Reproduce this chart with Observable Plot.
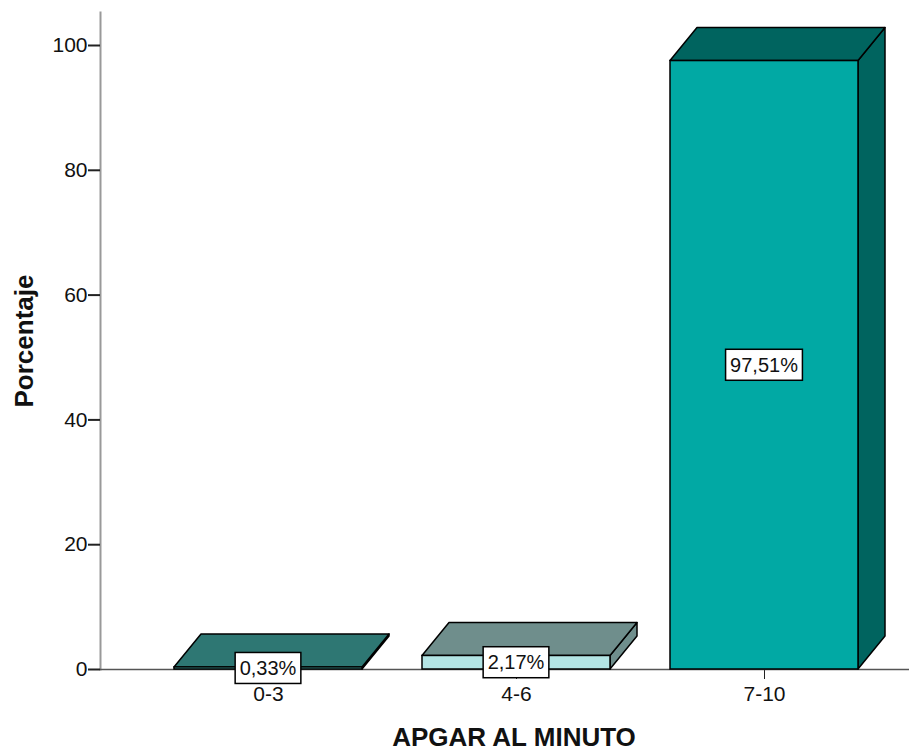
<!DOCTYPE html>
<html><head><meta charset="utf-8">
<script src="https://cdn.jsdelivr.net/npm/d3@7"></script>
<script src="https://cdn.jsdelivr.net/npm/@observablehq/plot@0.6"></script>
<style>html,body{margin:0;padding:0;background:#fff;} svg{display:block;}</style>
</head><body><div id="chart"></div>
<script>
const categories = ["0-3", "4-6", "7-10"];
const percentages = [0.33, 2.17, 97.51];
const valueLabels = ["0,33%", "2,17%", "97,51%"];
const yTicks = [0, 20, 40, 60, 80, 100];
const frontColors = ["#4cbdb6", "#b3e4e4", "#01a9a4"];
const topColors = ["#2e7773", "#6f8e8c", "#00645f"];
const xTitle = "APGAR AL MINUTO";
const yTitle = "Porcentaje";

const data = categories.map((c, i) => ({cat: c, value: percentages[i], label: valueLabels[i], front: frontColors[i], top: topColors[i]}));

const DX = 27, DY = 33;
const FONT = "'Liberation Sans', Arial, sans-serif";

function renderFaces(index, scales) {
  const {x, y} = scales;
  const bw = x.bandwidth();
  const g = d3.create("svg:g").attr("stroke", "#000").attr("stroke-width", 1.5).attr("stroke-linejoin", "round");
  for (const i of index) {
    const d = data[i];
    const x0 = x(d.cat), x1 = x0 + bw, yt = y(d.value), yb = y(0);
    g.append("path")
      .attr("d", `M${x1},${yt}L${x1 + DX},${yt - DY}L${x1 + DX},${yb - DY}L${x1},${yb}Z`)
      .attr("fill", d.top);
    g.append("path")
      .attr("d", `M${x0},${yt}L${x0 + DX},${yt - DY}L${x1 + DX},${yt - DY}L${x1},${yt}Z`)
      .attr("fill", d.top);
  }
  return g.node();
}

const measureCtx = document.createElement("canvas").getContext("2d");
function renderLabels(index, scales) {
  const {x, y} = scales;
  const bw = x.bandwidth();
  const fs = 20;
  measureCtx.font = `${fs}px 'Liberation Sans', Arial, sans-serif`;
  const g = d3.create("svg:g");
  for (const i of index) {
    const d = data[i];
    const cx = x(d.cat) + bw / 2, cy = y(d.value / 2);
    const w = measureCtx.measureText(d.label).width + 9, h = 31;
    g.append("rect").attr("x", cx - w / 2).attr("y", cy - h / 2).attr("width", w).attr("height", h)
      .attr("fill", "#fff").attr("stroke", "#000").attr("stroke-width", 1.5);
    g.append("text").attr("x", cx).attr("y", cy).attr("text-anchor", "middle").attr("dy", "0.35em")
      .attr("font-size", fs).attr("font-family", FONT).attr("fill", "#111").text(d.label);
  }
  return g.node();
}

const chart = Plot.plot({
  width: 909,
  height: 751,
  marginLeft: 100,
  marginRight: 0,
  marginTop: 12,
  marginBottom: 82,
  style: {fontFamily: FONT, background: "#fff", color: "#111", fontSize: "21px"},
  x: {domain: categories, range: [174, 858], paddingInner: 60 / 248, paddingOuter: 0, round: false, axis: null},
  y: {domain: [0, 100], range: [669, 45], axis: null},
  color: {type: "identity"},
  marks: [
    Plot.frame({anchor: "left", stroke: "#999", strokeWidth: 2}),
    Plot.axisY({ticks: yTicks, tickSize: 12, tickPadding: 1, fontSize: 21, label: null, strokeWidth: 2, stroke: "#222"}),
    Plot.axisX({tickSize: 10, tickPadding: 7, fontSize: 21, label: null, stroke: "#222"}),
    Plot.ruleY([0], {stroke: "#555", strokeWidth: 1.5}),
    Plot.barY(data, {x: "cat", y: "value", render: renderFaces}),
    Plot.barY(data, {x: "cat", y: "value", fill: "front", stroke: "#000", strokeWidth: 1.5}),
    Plot.text(data, {x: "cat", y: d => d.value / 2, text: "label", render: renderLabels}),
    Plot.text([yTitle], {frameAnchor: "left", rotate: -90, dx: -76, text: d => d, fontSize: 26, fontWeight: "bold", textAnchor: "middle", lineAnchor: "middle", fill: "#111"}),
    Plot.text([xTitle], {frameAnchor: "bottom", dx: 9, dy: 68, text: d => d, fontSize: 26, fontWeight: "bold", textAnchor: "middle", lineAnchor: "middle", fill: "#111"})
  ]
});
document.getElementById("chart").append(chart);
</script>
</body></html>
